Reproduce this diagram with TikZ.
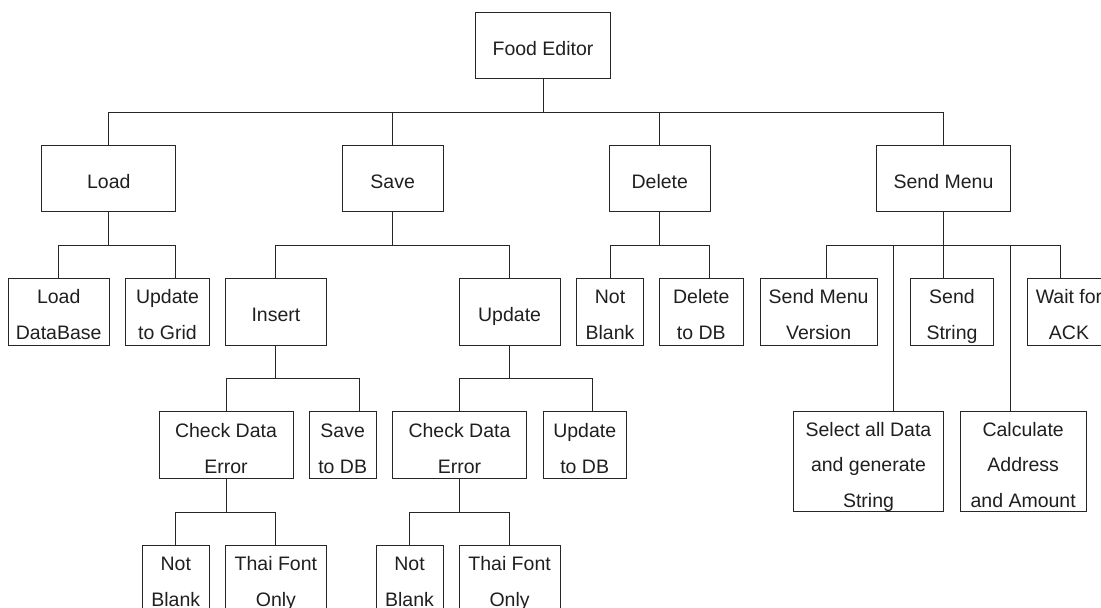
\documentclass[tikz,border=0pt]{standalone}
\usepackage{fontspec}
\setmainfont{Liberation Sans}
% invisible strut: fixes the height of the first line and depth of the last
\newcommand\bs{\rule[-3.9pt]{0pt}{28pt}}
\begin{document}
\begin{tikzpicture}[x=1pt,y=-1pt,
  box/.style={draw=black!85, line width=0.9pt, rectangle, inner sep=0pt,
    minimum height=66.7, align=center, text=black!88,
    font=\fontsize{19.5}{36}\selectfont,
    execute at end node=\bs},
  tall/.style={box, minimum height=100, font=\fontsize{19.5}{35.3}\selectfont},
  conn/.style={draw=black!85, line width=0.9pt}]
\useasboundingbox (0,0) rectangle (1101,608);
\begin{scope}
\clip (0,0) rectangle (1101,608);

% root
\node[box, minimum width=134.6] (fe) at (543,45.3) {\bs Food Editor};

% level 1
\node[box, minimum width=134] (load) at (108.8,178.5) {\bs Load};
\node[box, minimum width=100.5] (save) at (392.7,178.5) {\bs Save};
\node[box, minimum width=100.4] (del) at (659.8,178.5) {\bs Delete};
\node[box, minimum width=134.3] (send) at (943.5,178.5) {\bs Send Menu};

% level 2
\node[box, minimum width=100.7] (ldb) at (58.7,311.7) {\bs Load\\DataBase};
\node[box, minimum width=83.6] (ugr) at (167.5,311.7) {\bs Update\\to Grid};
\node[box, minimum width=100.3] (ins) at (275.9,311.7) {\bs Insert};
\node[box, minimum width=100.7] (upd) at (509.6,311.7) {\bs Update};
\node[box, minimum width=67.2] (dnb) at (610,311.7) {\bs Not\\Blank};
\node[box, minimum width=83.9] (ddb) at (701.3,311.7) {\bs Delete\\to DB};
\node[box, minimum width=117.3] (smv) at (818.6,311.7) {\bs Send Menu\\Version};
\node[box, minimum width=83.4] (sst) at (952,311.7) {\bs Send\\String};
\node[box, minimum width=84] (wack) at (1069,311.7) {\bs Wait for\\ACK};

% level 3
\node[box, minimum width=134] (cde1) at (226,445) {\bs Check Data\\Error};
\node[box, minimum width=67.3] (sdb) at (342.7,445) {\bs Save\\to DB};
\node[box, minimum width=133.9] (cde2) at (459.5,445) {\bs Check Data\\Error};
\node[box, minimum width=83.5] (udb) at (584.7,445) {\bs Update\\to DB};
\node[tall, minimum width=150.4] (sel) at (868.5,461.7) {\bs Select all Data\\and generate\\String};
\node[tall, minimum width=125.7] (calc) at (1023.2,461.7) {\bs Calculate\\Address\\and Amount};

% level 4
\node[box, minimum width=67] (nb1) at (175.8,578.3) {\bs Not\\Blank};
\node[box, minimum width=100.3] (tf1) at (275.9,578.3) {\bs Thai Font\\Only};
\node[box, minimum width=66.9] (nb2) at (409.5,578.3) {\bs Not\\Blank};
\node[box, minimum width=100.7] (tf2) at (509.6,578.3) {\bs Thai Font\\Only};

% connectors: down to the bus, across, then down into the child
% (parent / child / offset of the stem from the child's centre)
\foreach \p/\c/\dx in {fe/load/0, fe/save/0, fe/del/0, fe/send/0,
    load/ldb/0, load/ugr/8.2,
    save/ins/0, save/upd/0,
    del/dnb/0, del/ddb/8.3,
    send/smv/8.1, send/sel/25.2, send/sst/-8.3, send/calc/-12.5,
    send/wack/-8.7,
    ins/cde1/0, ins/sdb/16.6,
    upd/cde2/0, upd/udb/8.2,
    cde1/nb1/0, cde1/tf1/0,
    cde2/nb2/0, cde2/tf2/0}
  \draw[conn] (\p.south) -- ++(0,33.3) -| ([xshift=\dx]\c.north);
\end{scope}
\end{tikzpicture}
\end{document}
